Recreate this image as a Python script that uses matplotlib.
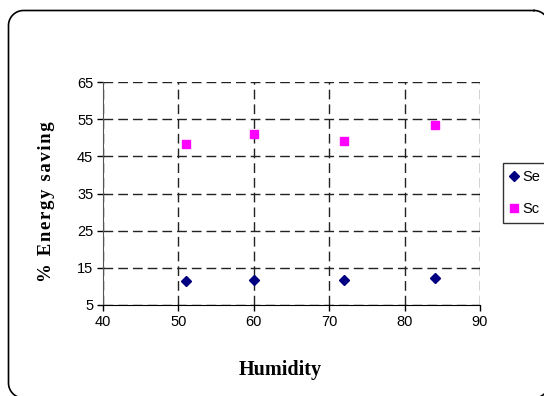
import matplotlib
matplotlib.use("Agg")
import matplotlib.pyplot as plt
import numpy as np

humidity = [51, 60, 72, 84]
se_values = [11.5, 11.8, 11.8, 12.2]
sc_values = [48.4, 51.1, 49.1, 53.3]
x_ticks = [40, 50, 60, 70, 80, 90]
y_ticks = [5, 15, 25, 35, 45, 55, 65]

sans = 'Liberation Sans'
serif = 'Liberation Serif'

W, H = 544, 396
fig = plt.figure(figsize=(W / 100, H / 100), dpi=100)
fig.patch.set_facecolor('white')

# overlay in pixel coordinates (y down) for the outer rounded border
bg = fig.add_axes([0, 0, 1, 1])
bg.set_xlim(0, W)
bg.set_ylim(H, 0)
bg.axis('off')


def rounded_rect(x0, y0, x1, y1, r, n=20):
    pts = []
    corners = [((x1 - r, y0 + r), -90, 0), ((x1 - r, y1 - r), 0, 90),
               ((x0 + r, y1 - r), 90, 180), ((x0 + r, y0 + r), 180, 270)]
    for (cx, cy), a0, a1 in corners:
        t = np.radians(np.linspace(a0, a1, n))
        pts.extend(zip(cx + r * np.cos(t), cy + r * np.sin(t)))
    pts.append(pts[0])
    return np.array(pts)


rr = rounded_rect(8.5, 10.5, 549, 398, 15)
bg.plot(rr[:, 0], rr[:, 1], color='black', linewidth=1.2, clip_on=False)

ax = fig.add_axes([103 / W, 1 - 305 / H, (480 - 103) / W, (305 - 82) / H])
ax.set_xlim(40, 90)
ax.set_ylim(5, 65)
ax.set_xticks(x_ticks)
ax.set_yticks(y_ticks)
ax.grid(True, color='#222222', linestyle=(0, (7, 3.6)), linewidth=1.0)
ax.set_axisbelow(True)
for s in ['top', 'right']:
    ax.spines[s].set_visible(False)
ax.spines['left'].set_color('#555555')
ax.spines['bottom'].set_color('black')
ax.tick_params(direction='out', length=4, width=1, colors='black', pad=3)
for lbl in ax.get_xticklabels() + ax.get_yticklabels():
    lbl.set_fontfamily(sans)
    lbl.set_fontsize(10.5)

ax.plot(humidity, se_values, linestyle='none', marker='D', markersize=5.5,
        color='#000080', label='Se', clip_on=False)
ax.plot(humidity, sc_values, linestyle='none', marker='s', markersize=5.5,
        color='#FF00FF', label='Sc', clip_on=False)

ylabel = '\u200a'.join('% Energy saving')
fig.text(47 / W, 1 - 202 / H, ylabel, rotation=90, ha='center', va='center',
         fontfamily=serif, fontweight='bold', fontsize=13.5)
fig.text(280 / W, 1 - 370 / H, 'Humidity', ha='center', va='center',
         fontfamily=serif, fontweight='bold', fontsize=14.5)

leg = ax.legend(loc='center left', bbox_to_anchor=(503 / W, 1 - 193 / H),
                bbox_transform=fig.transFigure, frameon=True, fancybox=False,
                handlelength=0.5, handletextpad=0.3, borderpad=0.5,
                labelspacing=1.2, borderaxespad=0,
                prop={'family': sans, 'size': 10.5})
leg.get_frame().set_edgecolor('black')
leg.get_frame().set_linewidth(1.0)

fig.savefig('out.png', dpi=100)
